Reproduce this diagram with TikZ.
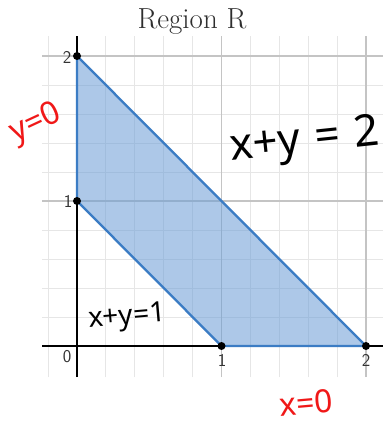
\documentclass[tikz,border=0pt]{standalone}
\usepackage{fontspec}
\newfontfamily\hand{Noto Sans}
\definecolor{regfill}{HTML}{6A9CD6}
\definecolor{regline}{HTML}{3B7CC4}
\definecolor{minorgrid}{HTML}{E6E6E6}
\definecolor{majorgrid}{HTML}{C4C4C4}
\definecolor{hred}{HTML}{F01818}
\definecolor{titlegray}{HTML}{2E2E2E}
\tikzset{
  minorline/.style={draw=minorgrid, line width=0.9pt},
  majorline/.style={draw=majorgrid, line width=1.1pt},
  axisline/.style={draw=black, line width=1.3pt},
  regionfill/.style={fill=regfill, fill opacity=0.55},
  regionedge/.style={draw=regline, line width=2.3pt, line join=round},
  vertex/.style={circle, fill=black, inner sep=0pt, minimum size=8pt},
  ticklab/.style={font=\sffamily\fontsize{18}{18}\selectfont, text=black!80, inner sep=0pt},
  handblack/.style={font=\hand\fontsize{44}{44}\selectfont, text=black, inner sep=0pt},
  handsmall/.style={font=\hand\fontsize{28}{28}\selectfont, text=black, inner sep=0pt},
  handred/.style={font=\hand\fontsize{32}{32}\selectfont, text=hred, inner sep=0pt},
}
\begin{document}
\begin{tikzpicture}[x=1pt,y=-1pt]
\useasboundingbox (0,0) rectangle (386,427);
\clip (0,0) rectangle (386,427);
\fill[white] (0,0) rectangle (386,427);
\node[font=\fontsize{29}{29}\selectfont, text=titlegray, anchor=base] (title) at (192,29) {Region R};
\begin{scope}[shift={(77,346)}, x=144.5pt, y=145pt]
  % grid
  \foreach \i in {-1,1,2,3,4,6,7,8,9}
    \draw[minorline] (\i/5,-0.215) -- (\i/5,2.14);
  \foreach \j in {1,2,3,4,6,7,8,9}
    \draw[minorline] (-0.24,\j/5) -- (2.12,\j/5);
  \foreach \k in {1,2} {
    \draw[majorline] (\k,-0.215) -- (\k,2.14);
    \draw[majorline] (-0.24,\k) -- (2.12,\k);
  }
  % axes
  \draw[axisline] (0,-0.215) -- (0,2.14);
  \draw[axisline] (-0.24,0) -- (2.12,0);
  % region
  \coordinate (A) at (0,2);
  \coordinate (B) at (0,1);
  \coordinate (C) at (1,0);
  \coordinate (D) at (2,0);
  \fill[regionfill] (B) -- (A) -- (D) -- (C) -- cycle;
  \draw[regionedge] (B) -- (A) -- (D) -- (C) -- cycle;
  \node[vertex] (pA) at (A) {};
  \node[vertex] (pB) at (B) {};
  \node[vertex] (pC) at (C) {};
  \node[vertex] (pD) at (D) {};
\end{scope}
% tick labels
\node[ticklab] (t2y) at (67,57) {2};
\node[ticklab] (t1y) at (68,201) {1};
\node[ticklab] (t0) at (67,357) {0};
\node[ticklab] (t1x) at (222,360) {1};
\node[ticklab] (t2x) at (366,360) {2};
% handwritten labels
\node[handred, rotate=25] (ly0) at (36,124) {y=0};
\node[handblack, rotate=6, anchor=west] (lxy2) at (230,150) {x+y\,\,=\,\,2};
\node[handsmall, rotate=5] (lxy1) at (127,318) {x+y=1};
\node[handred, rotate=5] (lx0) at (306,403) {x=0};
\end{tikzpicture}
\end{document}
